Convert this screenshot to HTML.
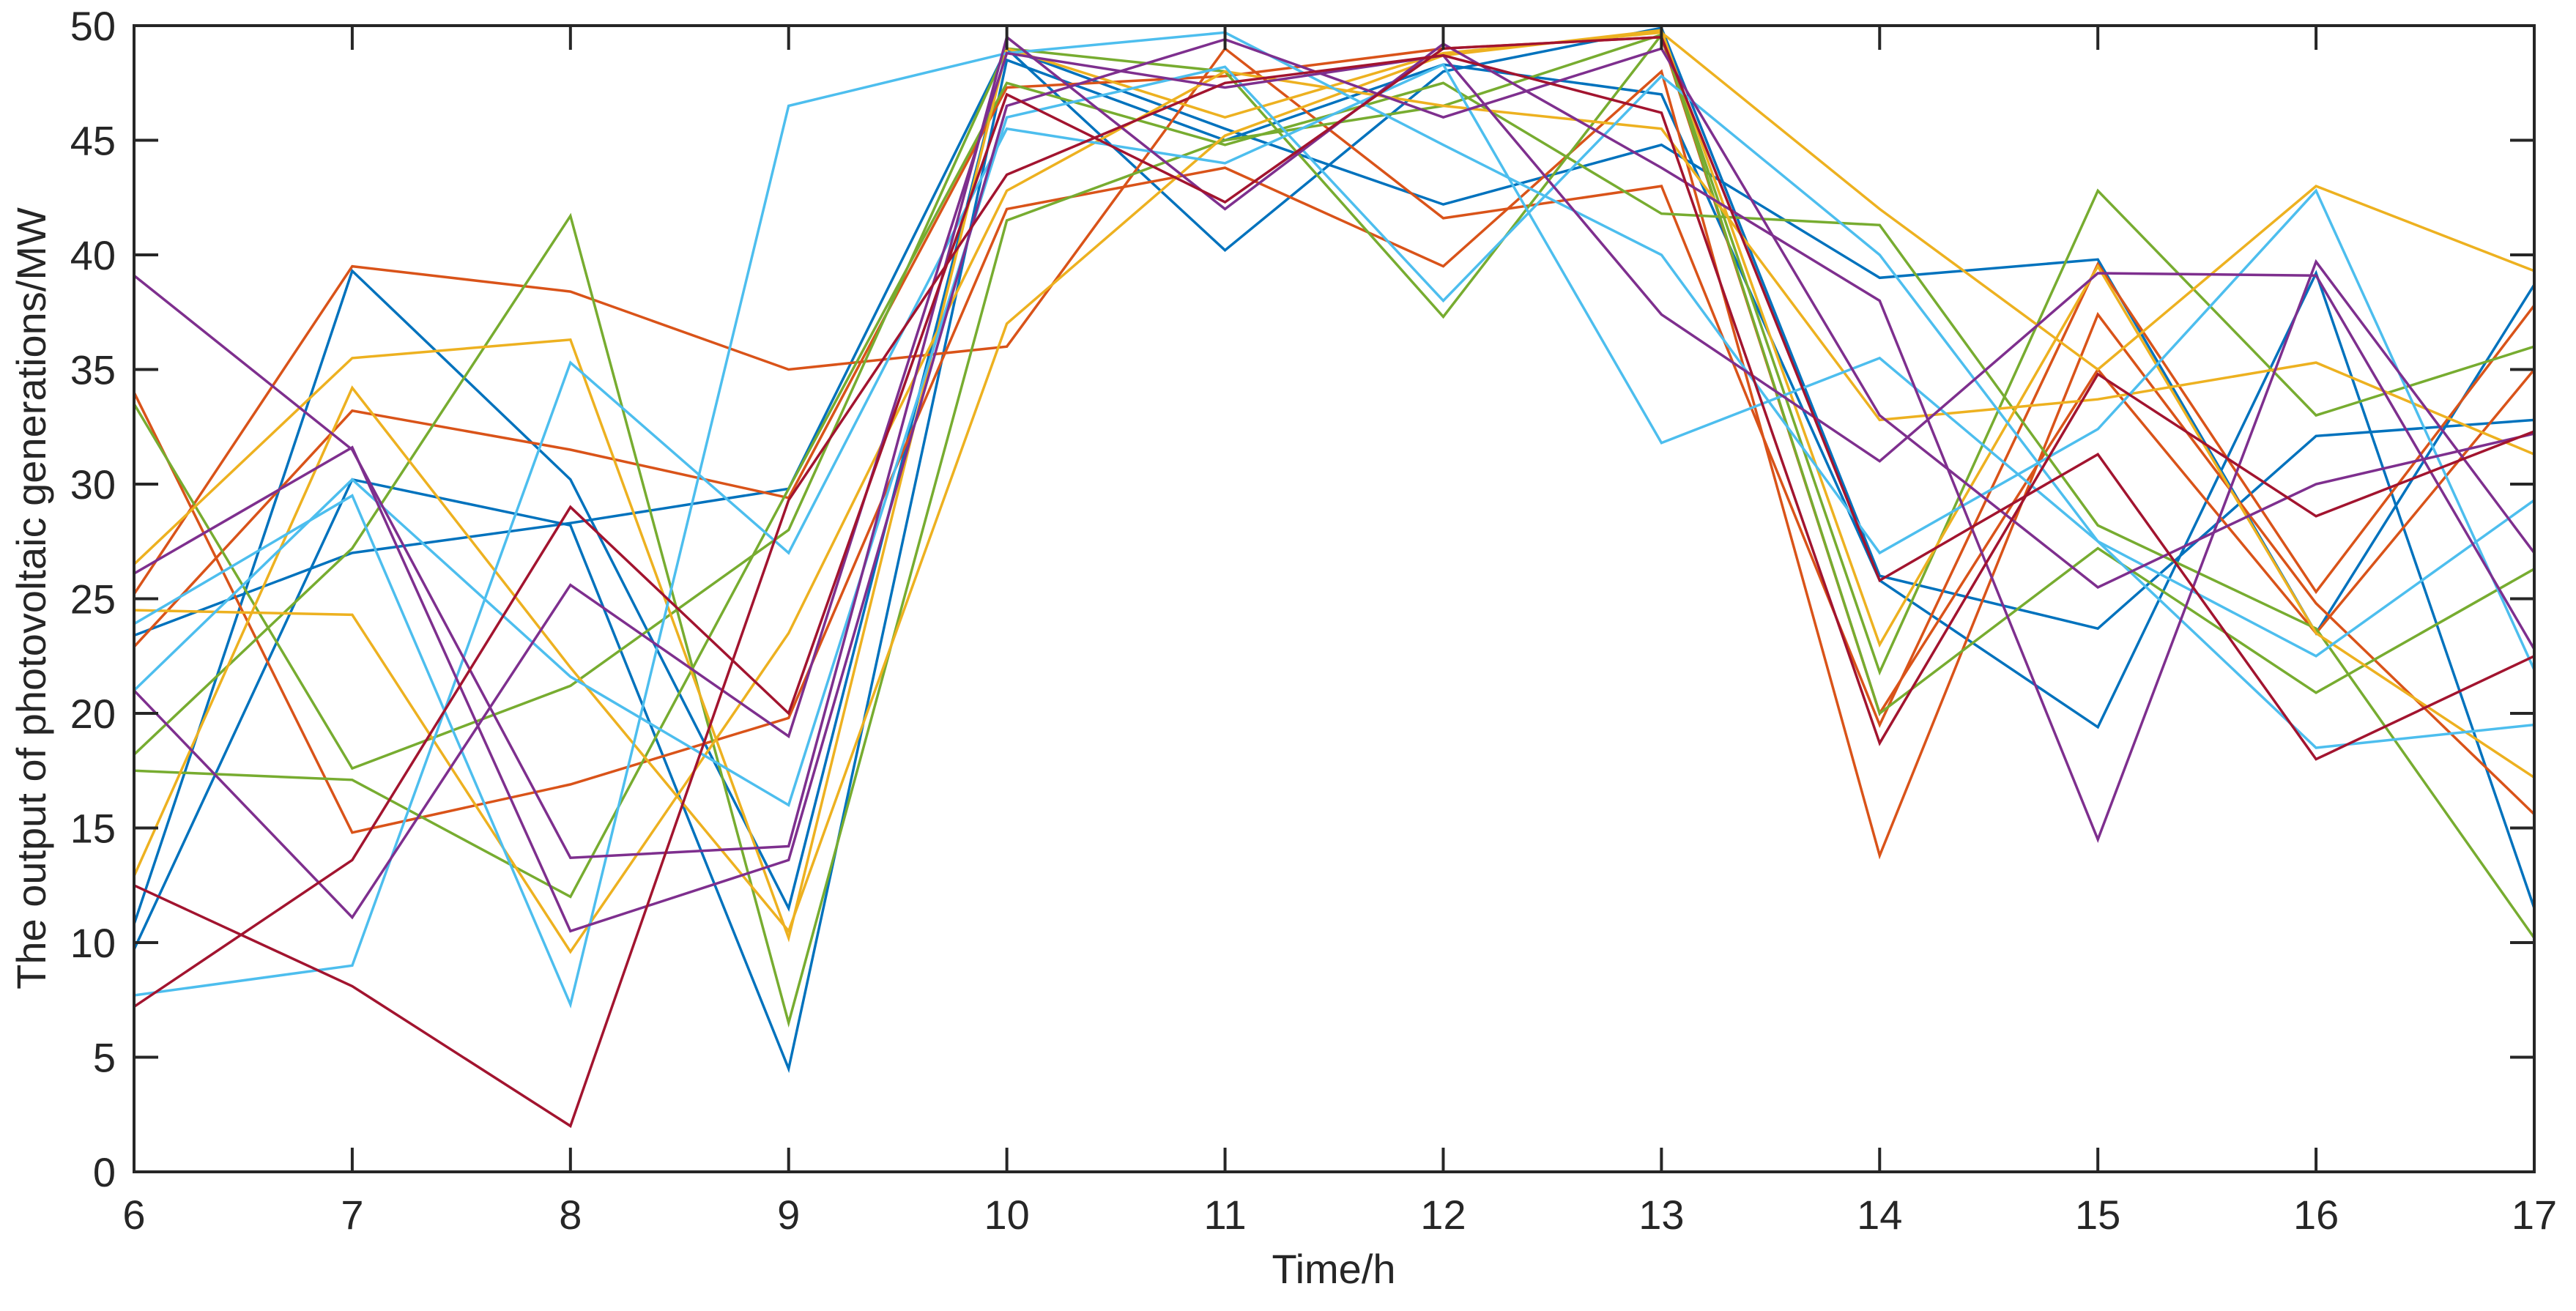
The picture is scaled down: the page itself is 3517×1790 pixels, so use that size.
<!DOCTYPE html>
<html><head><meta charset="utf-8"><style>
html,body{margin:0;padding:0;background:#fff;}
svg{display:block;font-family:"Liberation Sans",Arial,sans-serif;}
</style></head><body>
<svg id="chart" width="3517" height="1790" viewBox="0 0 3517 1790" xmlns="http://www.w3.org/2000/svg">
<rect x="0" y="0" width="3517" height="1790" fill="#fff"/>
<g id="series"></g>
<g id="axes"></g>
<text x="1821" y="1752" font-size="56" fill="#262626" text-anchor="middle">Time/h</text>
<text transform="translate(62,817) rotate(-90)" font-size="56" fill="#262626" text-anchor="middle">The output of photovoltaic generations/MW</text>
</svg>
<script>
const hours = [6,7,8,9,10,11,12,13,14,15,16,17];
const xTicks = [6,7,8,9,10,11,12,13,14,15,16,17];
const yTicks = [0,5,10,15,20,25,30,35,40,45,50];
const seriesColors = ["#0072BD","#0072BD","#0072BD","#D95319","#D95319","#D95319","#77AC30","#77AC30","#77AC30","#EDB120","#EDB120","#EDB120","#4DBEEE","#4DBEEE","#4DBEEE","#7E2F8E","#7E2F8E","#7E2F8E","#A2142F","#A2142F"];
const b1 = [23.4,27,28.3,29.8,49,45.5,42.2,44.8,39,39.8,23.5,38.7];
const b2 = [10.8,39.3,30.2,11.5,49,40.2,48,49.9,26,23.7,32.1,32.8];
const b3 = [9.7,30.2,28.2,4.5,48.5,45,48.3,47,25.8,19.4,39.2,11.5];
const o1 = [34,14.8,16.9,19.8,42,43.8,39.5,48,13.8,37.4,24.8,15.6];
const o2 = [25.2,39.5,38.4,35,36,49,41.6,43,19.5,39.6,25.3,37.8];
const o3 = [22.9,33.2,31.5,29.4,47.3,47.8,49,49.5,20,35,23.5,35];
const g1 = [33.5,17.6,21.2,28,49,48,37.3,49.6,21.8,42.8,33,36];
const g2 = [17.5,17.1,12,29.8,47.5,44.8,47.5,41.8,41.3,28.2,23.7,10.2];
const g3 = [18.2,27.2,41.7,6.5,41.5,45,46.5,49.6,20,27.2,20.9,26.3];
const y1 = [26.5,35.5,36.3,10.2,49,46,48.8,49.7,42,35,43,39.3];
const y2 = [24.5,24.3,9.6,23.5,42.8,48,46.5,45.5,32.8,33.7,35.3,31.3];
const y3 = [12.9,34.2,22,10.5,37,45.2,48.7,49.8,23,39.5,23.5,17.2];
const c1 = [23.9,29.5,7.3,46.5,48.8,49.7,44.8,40,27,32.4,42.8,21.9];
const c2 = [21,30.2,21.6,16,46,48.2,38,47.8,40,27.5,18.5,19.5];
const c3 = [7.7,9,35.3,27,45.5,44,48.3,31.8,35.5,27.5,22.5,29.3];
const p1 = [39.1,31.5,13.7,14.2,49.5,42,49.2,43.8,38,14.5,39.7,27];
const p2 = [26.1,31.6,10.5,13.6,46.5,49.4,46,49,33,25.5,30,32.2];
const p3 = [21,11.1,25.6,19,48.8,47.3,48.7,37.4,31,39.2,39.1,22.8];
const d1 = [12.5,8.1,2.0,29.3,43.5,47.5,48.7,46.2,18.7,34.8,28.6,32.3];
const d2 = [7.2,13.6,29,20,47,42.3,49,49.5,25.8,31.3,18,22.5];
const allSeries = [b1,b2,b3,o1,o2,o3,g1,g2,g3,y1,y2,y3,c1,c2,c3,p1,p2,p3,d1,d2];

const L=183,R=3460,T=35,B=1600;
const xS = v => L + (v-6)/(17-6)*(R-L);
const yS = v => B - v/50*(B-T);
const NS="http://www.w3.org/2000/svg";
const sg=document.getElementById('series');
allSeries.forEach((s,i)=>{
  const p=document.createElementNS(NS,'polyline');
  p.setAttribute('points', s.map((v,j)=>xS(hours[j]).toFixed(1)+','+yS(v).toFixed(1)).join(' '));
  p.setAttribute('fill','none');
  p.setAttribute('stroke',seriesColors[i]);
  p.setAttribute('stroke-width','3.5');
  p.setAttribute('stroke-linejoin','miter');
  
  
  sg.appendChild(p);
});
const ag=document.getElementById('axes');
function line(x1,y1,x2,y2,name){
  const l=document.createElementNS(NS,'line');
  l.setAttribute('x1',x1);l.setAttribute('y1',y1);l.setAttribute('x2',x2);l.setAttribute('y2',y2);
  l.setAttribute('stroke','#262626');l.setAttribute('stroke-width','4');
  
  
  ag.appendChild(l);
}
function text(x,y,s,anchor,name){
  const t=document.createElementNS(NS,'text');
  t.setAttribute('x',x);t.setAttribute('y',y);t.setAttribute('font-size','56');
  t.setAttribute('fill','#262626');t.setAttribute('text-anchor',anchor);
  t.textContent=s;
  
  
  ag.appendChild(t);
}
xTicks.forEach(v=>{
  const x=xS(v);
  line(x,B,x,B-33,'x-tick');
  line(x,T,x,T+33,'x-tick-top');
  text(x,1678,String(v),'middle','x-tick-label');
});
yTicks.forEach(v=>{
  const y=yS(v);
  line(L,y,L+33,y,'y-tick');
  line(R,y,R-33,y,'y-tick-right');
  text(158,y+20,String(v),'end','y-tick-label');
});
const box=document.createElementNS(NS,'rect');
box.setAttribute('x',L);box.setAttribute('y',T);box.setAttribute('width',R-L);box.setAttribute('height',B-T);
box.setAttribute('fill','none');box.setAttribute('stroke','#262626');box.setAttribute('stroke-width','4');


ag.appendChild(box);
</script>
</body></html>
